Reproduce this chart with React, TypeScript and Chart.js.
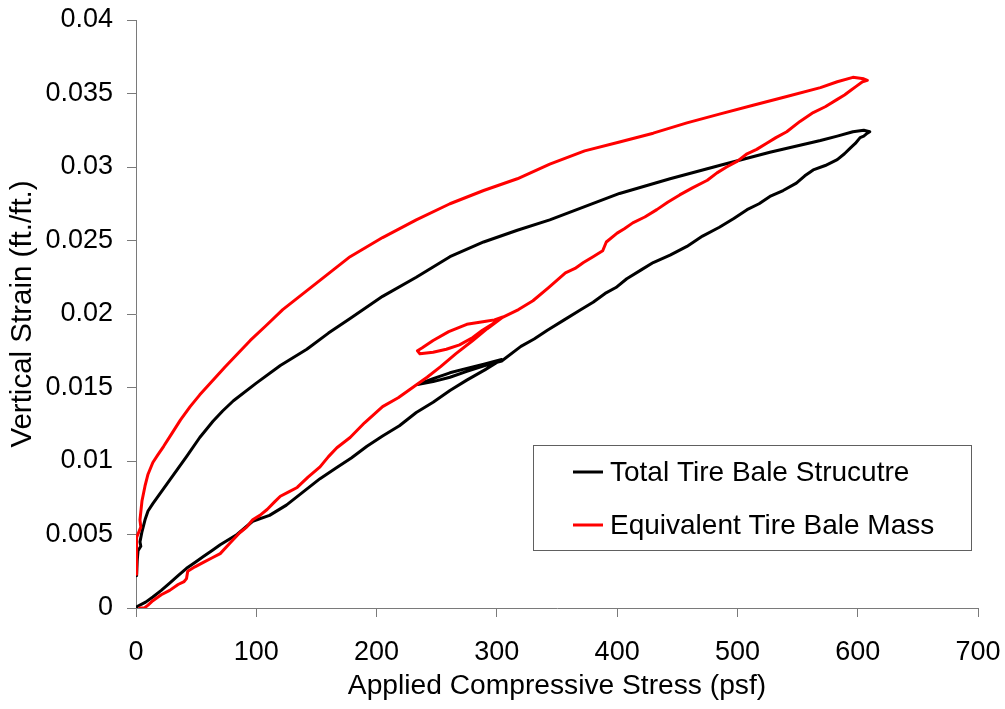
import React, { useEffect, useRef } from "react";
import { Chart, registerables } from "chart.js";

Chart.register(...registerables);

const FONT = '"Liberation Sans", Arial, Helvetica, sans-serif';

const xTicks = [0, 100, 200, 300, 400, 500, 600, 700];
const yTicks = [0, 0.005, 0.01, 0.015, 0.02, 0.025, 0.03, 0.035, 0.04];
const xTitle = "Applied Compressive Stress (psf)";
const yTitle = "Vertical Strain (ft./ft.)";
const seriesNames = ["Total Tire Bale Strucutre", "Equivalent Tire Bale Mass"];
const seriesColors = ["#000000", "#ff0000"];

// Total Tire Bale Structure: loading, small unload/reload loop, loading, unloading
const blackStress = [
  0, 1, 8, 14, 21, 28, 35, 42, 49, 56, 63, 70, 84, 97, 111, 125, 139, 153, 166, 179, 192, 205, 219, 233, 247, 261, 275, 290, 304,
  290, 275, 261, 247, 234, 247, 261, 275, 290, 304,
  320, 331, 342, 356, 370, 380, 390, 399, 408, 420, 430, 444, 458, 471, 485, 497, 508, 518, 527, 538, 549, 556, 563, 573, 583, 589, 594, 598, 602, 605, 608, 610,
  605, 596, 583, 569, 527, 485, 444, 402, 373, 344, 317, 289, 261, 233, 205, 178, 160, 142, 120, 100, 81, 72, 64, 53, 42, 35, 28, 21, 14, 10, 7.5, 5, 3.3, 4, 1.7, 1, 0.5,
];
const blackStrain = [
  0, 0.0001, 0.0004, 0.00075, 0.0012, 0.0017, 0.0022, 0.0027, 0.0031, 0.0035, 0.0039, 0.0043, 0.005, 0.0059, 0.0063, 0.007, 0.0079, 0.0088, 0.0095, 0.0102, 0.011, 0.0117, 0.0124, 0.0133, 0.014, 0.0148, 0.0155, 0.0162, 0.0169,
  0.0166, 0.0163, 0.016, 0.0156, 0.0152, 0.0154, 0.0157, 0.0161, 0.0165, 0.0168,
  0.0178, 0.0183, 0.0189, 0.0196, 0.0203, 0.0208, 0.0214, 0.0218, 0.0224, 0.023, 0.0235, 0.024, 0.0246, 0.0253, 0.0259, 0.0265, 0.0271, 0.0275, 0.028, 0.0284, 0.0289, 0.0294, 0.0298, 0.0301, 0.0305, 0.0309, 0.0313, 0.0316, 0.032, 0.0321, 0.0323, 0.0324,
  0.0325, 0.0324, 0.0321, 0.0318, 0.031, 0.0301, 0.0292, 0.0282, 0.0273, 0.0264, 0.0257, 0.0249, 0.0239, 0.0225, 0.0212, 0.0197, 0.0187, 0.0176, 0.0165, 0.0153, 0.0141, 0.0134, 0.0127, 0.0116, 0.0103, 0.0095, 0.0087, 0.0079, 0.0071, 0.0066, 0.006, 0.0052, 0.0045, 0.0042, 0.0039, 0.0032, 0.0022,
];

// Equivalent Tire Bale Mass
const redStress = [
  3, 7, 10, 14, 21, 28, 35, 40, 42, 43, 49, 56, 63, 70, 78, 86, 92, 97, 103, 109, 115, 120, 127, 134, 143, 153, 160, 167, 178, 190, 205, 218, 230, 242, 253, 266, 280, 292, 305,
  298, 291, 275, 260, 247, 238, 234, 236, 247, 258, 269, 280, 288, 296, 303,
  318, 330, 343, 357, 365, 372, 380, 388, 391, 400, 406, 413, 423, 433, 442, 452, 463, 475, 483, 491, 500, 508, 516, 524, 532, 541, 552, 563, 573, 583, 589, 594, 599, 604, 608,
  605, 596, 583, 569, 541, 513, 485, 458, 430, 402, 373, 344, 317, 289, 261, 233, 205, 178, 150, 122, 108, 95, 74, 53, 45, 37, 30, 23, 18, 14, 10, 7.5, 5, 3.3, 4, 0.5, 0.5, 0.5,
];
const redStrain = [
  0, 0, 0.0002, 0.0005, 0.0009, 0.0012, 0.0016, 0.0018, 0.002, 0.0025, 0.0028, 0.0031, 0.0034, 0.0037, 0.0044, 0.0051, 0.0055, 0.006, 0.0063, 0.0067, 0.0072, 0.0076, 0.0079, 0.0082, 0.0089, 0.0096, 0.0103, 0.0109, 0.0116, 0.0126, 0.0137, 0.0143, 0.015, 0.0157, 0.0164, 0.0173, 0.0182, 0.019, 0.0198,
  0.0196, 0.0195, 0.0193, 0.0188, 0.0182, 0.0177, 0.0175, 0.0173, 0.0174, 0.0176, 0.0179, 0.0184, 0.0189, 0.0193, 0.0197,
  0.0203, 0.0209, 0.0218, 0.0228, 0.0231, 0.0235, 0.0239, 0.0243, 0.0249, 0.0255, 0.0258, 0.0262, 0.0266, 0.0271, 0.0276, 0.0281, 0.0286, 0.0291, 0.0296, 0.03, 0.0304, 0.0309, 0.0312, 0.0316, 0.032, 0.0324, 0.0331, 0.0337, 0.0341, 0.0346, 0.0349, 0.0352, 0.0355, 0.0358, 0.0359,
  0.036, 0.0361, 0.0358, 0.0354, 0.0348, 0.0342, 0.0336, 0.033, 0.0323, 0.0317, 0.0311, 0.0302, 0.0292, 0.0284, 0.0275, 0.0264, 0.0252, 0.0239, 0.0221, 0.0203, 0.0192, 0.0182, 0.0164, 0.0145, 0.0137, 0.0128, 0.0119, 0.011, 0.0104, 0.0099, 0.0091, 0.0083, 0.0073, 0.006, 0.0055, 0.0048, 0.0035, 0.0023,
];

const zip = (xs: number[], ys: number[]) => xs.map((x, i) => ({ x, y: ys[i] }));

const legendPlugin = {
  id: "boxLegend",
  afterDraw(chart: any) {
    const { ctx, chartArea: a } = chart;
    const bx = a.right - 445;
    const by = a.top + 425;
    const bw = 438;
    const bh = 105;
    ctx.save();
    ctx.fillStyle = "#ffffff";
    ctx.fillRect(bx, by, bw, bh);
    ctx.strokeStyle = "#606060";
    ctx.lineWidth = 1;
    ctx.strokeRect(bx + 0.5, by + 0.5, bw, bh);
    ctx.font = `28px ${FONT}`;
    ctx.textBaseline = "middle";
    ctx.textAlign = "left";
    const rows = [by + 27, by + 80];
    seriesNames.forEach((name, i) => {
      ctx.strokeStyle = seriesColors[i];
      ctx.lineWidth = 3;
      ctx.beginPath();
      ctx.moveTo(bx + 40, rows[i]);
      ctx.lineTo(bx + 70, rows[i]);
      ctx.stroke();
      ctx.fillStyle = "#000000";
      ctx.fillText(name, bx + 77, rows[i] + 1);
    });
    ctx.restore();
  },
};

export default function App() {
  const ref = useRef<HTMLCanvasElement | null>(null);
  useEffect(() => {
    if (!ref.current) return;
    const axisGray = "#7a7a7a";
    const chart = new Chart(ref.current, {
      type: "scatter",
      data: {
        datasets: [
          {
            label: seriesNames[0],
            data: zip(blackStress, blackStrain),
            showLine: true,
            borderColor: seriesColors[0],
            backgroundColor: seriesColors[0],
            borderWidth: 3,
            pointRadius: 0,
            tension: 0,
            order: 2,
            borderJoinStyle: "round",
            borderCapStyle: "round",
          },
          {
            label: seriesNames[1],
            data: zip(redStress, redStrain),
            showLine: true,
            borderColor: seriesColors[1],
            backgroundColor: seriesColors[1],
            borderWidth: 3,
            pointRadius: 0,
            tension: 0,
            order: 1,
            borderJoinStyle: "round",
            borderCapStyle: "round",
          },
        ],
      },
      options: {
        responsive: false,
        animation: false,
        devicePixelRatio: 1,
        layout: { padding: { left: 0, right: 27, top: 20, bottom: 0 } },
        plugins: { legend: { display: false }, tooltip: { enabled: false } },
        scales: {
          x: {
            type: "linear",
            min: 0,
            max: 700,
            afterBuildTicks: (s: any) => {
              s.ticks = xTicks.map((v) => ({ value: v }));
            },
            afterFit: (s: any) => {
              s.height = 101;
              s.paddingLeft = 0;
              s.paddingRight = 0;
            },
            ticks: {
              color: "#000",
              font: { family: FONT, size: 27 },
              padding: 19,
              maxRotation: 0,
              callback: (v: any) => String(v),
            },
            grid: {
              display: true,
              drawOnChartArea: false,
              drawTicks: true,
              tickLength: 9,
              color: axisGray,
              lineWidth: 1,
            },
            border: { display: true, color: axisGray, width: 1 },
            title: {
              display: true,
              text: xTitle,
              color: "#000",
              font: { family: FONT, size: 28.2 },
              padding: { top: 0, bottom: 6 },
            },
          },
          y: {
            type: "linear",
            min: 0,
            max: 0.04,
            afterBuildTicks: (s: any) => {
              s.ticks = yTicks.map((v) => ({ value: v }));
            },
            afterFit: (s: any) => {
              s.width = 136;
              s.paddingTop = 0;
              s.paddingBottom = 0;
            },
            ticks: {
              color: "#000",
              font: { family: FONT, size: 27 },
              padding: 14,
              callback: (v: any) => String(v),
            },
            grid: {
              display: true,
              drawOnChartArea: false,
              drawTicks: true,
              tickLength: 9,
              color: axisGray,
              lineWidth: 1,
            },
            border: { display: true, color: axisGray, width: 1 },
            title: {
              display: true,
              text: yTitle,
              color: "#000",
              font: { family: FONT, size: 29.5 },
              padding: { top: 5, bottom: 0 },
            },
          },
        },
      },
      plugins: [legendPlugin],
    } as any);
    return () => chart.destroy();
  }, []);
  return (
    <div style={{ position: "absolute", left: 0, top: 0, width: 1005, height: 709, background: "#fff" }}>
      <canvas ref={ref} width={1005} height={709} style={{ display: "block" }} />
    </div>
  );
}
